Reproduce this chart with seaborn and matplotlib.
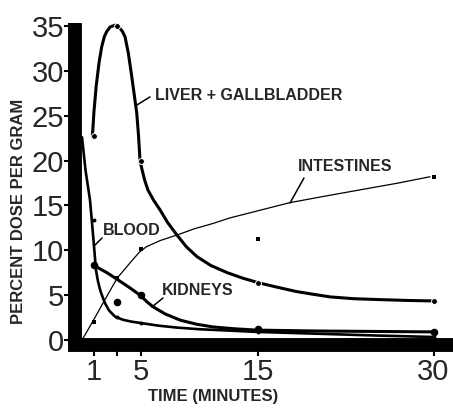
import matplotlib
matplotlib.use("Agg")
import matplotlib.pyplot as plt
import seaborn as sns

sns.set_theme(style="white")
plt.rcParams['font.family'] = ['Liberation Sans', 'DejaVu Sans']

# Datos medidos (minutos, % dosis por gramo)
tiempos = [1, 3, 5, 15, 30]
higado = [22.7, 35.0, 20.0, 6.4, 4.35]
rinones = [8.4, 4.2, 5.0, 1.2, 0.9]
sangre = [13.4, 2.6, 1.9, 0.9, 0.35]
intestinos = [2.0, 6.9, 10.1, 11.3, 18.2]

# Curvas trazadas a mano en el original
higado_t = [0.88, 0.95, 1.02, 1.11, 1.2, 1.31, 1.45, 1.68, 1.9, 2.11, 2.4, 2.82,
            3.2, 3.45, 3.67, 3.95, 4.24, 4.45, 4.67, 4.82, 4.95, 5.12, 5.35, 5.63,
            6.1, 6.66, 7.3, 8.1, 8.9, 9.8, 11.0, 12.4, 13.7, 15.0, 16.6, 18.3,
            19.7, 21.2, 23.2, 25.4, 28.0, 30.1]
higado_v = [22.7, 24.0, 25.5, 26.8, 28.2, 29.4, 30.9, 32.7, 33.8, 34.4, 34.9, 35.1,
            34.8, 34.4, 33.8, 32.0, 29.4, 27.4, 25.3, 22.8, 20.0, 19.0, 17.8, 16.7,
            15.6, 14.5, 13.1, 11.7, 10.4, 9.3, 8.3, 7.5, 6.9, 6.4, 5.9, 5.4,
            5.1, 4.8, 4.6, 4.5, 4.4, 4.35]

sangre_t = [0.0, 0.3, 0.68, 0.83, 1.0, 1.19, 1.35, 1.54, 1.75, 1.96, 2.3, 2.82,
            3.5, 4.2, 4.95, 6.5, 8.1, 10.0, 12.5, 14.9, 20.0, 25.0, 30.1]
sangre_v = [22.6, 18.9, 15.6, 13.4, 10.8, 7.8, 6.6, 5.6, 4.8, 4.1, 3.3, 2.6,
            2.25, 2.05, 1.9, 1.6, 1.38, 1.2, 1.05, 0.9, 0.7, 0.5, 0.33]

rinones_t = [0.94, 1.5, 2.13, 3.07, 4.1, 4.95, 5.5, 6.06, 7.1, 8.4, 9.8, 11.2,
             13.0, 14.9, 20.0, 25.0, 30.1]
rinones_v = [8.4, 7.95, 7.5, 6.7, 5.8, 5.0, 4.3, 3.7, 2.9, 2.2, 1.75, 1.45,
             1.25, 1.1, 1.0, 0.95, 0.9]

intestinos_t = [0.0, 0.91, 2.0, 3.0, 4.1, 4.9, 5.5, 6.7, 8.1, 9.6, 11.2, 12.6,
                15.0, 17.7, 21.0, 24.0, 27.0, 29.7]
intestinos_v = [0.0, 2.05, 4.6, 6.9, 8.6, 9.8, 10.4, 11.1, 11.7, 12.4, 13.0, 13.6,
                14.4, 15.3, 16.1, 16.8, 17.5, 18.2]

etiquetas_x = ['1', '', '5', '15', '30']
ticks_y = [0, 5, 10, 15, 20, 25, 30, 35]

fig = plt.figure(figsize=(4.53, 4.08), dpi=100)
ax = fig.add_axes([75 / 453, 63 / 408, 378 / 453, 322 / 408])

# Curvas
sns.lineplot(x=higado_t, y=higado_v, ax=ax, color='black', lw=2.2, estimator=None, sort=False)
sns.lineplot(x=sangre_t, y=sangre_v, ax=ax, color='black', lw=1.9, estimator=None, sort=False)
sns.lineplot(x=rinones_t, y=rinones_v, ax=ax, color='black', lw=2.2, estimator=None, sort=False)
sns.lineplot(x=intestinos_t, y=intestinos_v, ax=ax, color='black', lw=0.9, estimator=None, sort=False)

# Puntos
sns.scatterplot(x=tiempos, y=higado, ax=ax, color='black', s=18, edgecolor='white', linewidth=0.7, zorder=5)
sns.scatterplot(x=tiempos, y=rinones, ax=ax, color='black', s=30, linewidth=0, zorder=5)
sns.scatterplot(x=tiempos, y=sangre, ax=ax, color='black', s=8, linewidth=0, zorder=5)
sns.scatterplot(x=tiempos, y=intestinos, ax=ax, color='black', marker='s', s=6, linewidth=0, zorder=5)

# Etiquetas de las curvas
estilo = dict(fontsize=11.5, fontweight='bold', va='center', ha='left')
ax.text(6.23, 27.3, 'LIVER + GALLBLADDER', **estilo)
ax.plot([5.8, 4.69], [27.1, 26.2], color='black', lw=1.1)
ax.text(18.43, 19.3, 'INTESTINES', **estilo)
ax.plot([18.94, 17.75], [18.06, 15.27], color='black', lw=1.1)
ax.text(1.79, 12.26, 'BLOOD', **estilo)
ax.plot([1.71, 1.11], [11.37, 10.59], color='black', lw=1.1)
ax.text(6.83, 5.57, 'KIDNEYS', **estilo)
ax.plot([6.91, 5.97], [4.68, 3.68], color='black', lw=1.1)

# Ejes gruesos
ax.set_xlim(-0.6, 31.66)
ax.set_ylim(-0.56, 35.34)
for lado in ['top', 'right']:
    ax.spines[lado].set_visible(False)
for lado in ['left', 'bottom']:
    ax.spines[lado].set_linewidth(10)
    ax.spines[lado].set_color('black')
ax.spines['bottom'].set_capstyle('projecting')
ax.spines['left'].set_capstyle('butt')

ax.set_xticks(tiempos)
ax.set_xticklabels(etiquetas_x)
ax.set_yticks(ticks_y)
ax.set_yticklabels([str(v) for v in ticks_y])
ax.tick_params(axis='both', direction='out', length=8, width=1.5, color='black',
               labelsize=21, pad=1, bottom=True, left=True)
ax.tick_params(axis='y', pad=0)
for lab in ax.get_xticklabels() + ax.get_yticklabels():
    lab.set_family(['Liberation Sans Narrow', 'Liberation Sans'])

ax.set_xlabel('')
ax.set_ylabel('')
fig.text(213 / 453, 1 - 397 / 408, 'TIME (MINUTES)', fontsize=12, fontweight='bold',
         ha='center', va='center')
fig.text(19 / 453, 1 - 211 / 408, 'PERCENT DOSE PER GRAM', fontsize=12, fontweight='bold',
         ha='center', va='center', rotation=90)

fig.savefig('out.png', dpi=100)
